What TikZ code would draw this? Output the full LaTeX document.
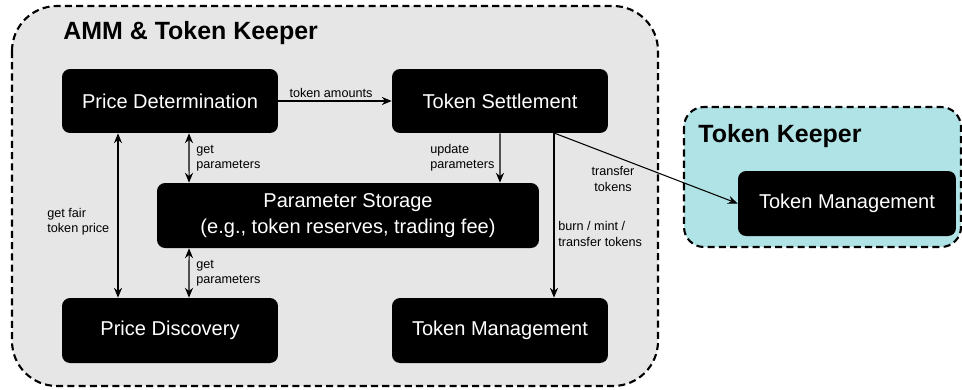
\documentclass[tikz,border=0pt]{standalone}
\usepackage{fontspec}
\setmainfont{Liberation Sans}
\usepackage{xcolor}
\usetikzlibrary{arrows.meta}

\definecolor{groupgray}{HTML}{E6E6E6}
\definecolor{keepercyan}{HTML}{B0E3E6}

\begin{document}
\begin{tikzpicture}[x=0.02cm, y=-0.02cm,
    blockbox/.style={rectangle, rounded corners=0.16cm, fill=black, text=white, align=center,
      font=\fontsize{11.4}{14.7}\selectfont, minimum width=4.32cm, minimum height=1.28cm},
    groupbox/.style={draw=black, line width=1.2pt, dash pattern=on 4pt off 2.4pt},
    grouptitle/.style={font=\fontsize{14.2}{17}\selectfont\bfseries, anchor=base west, inner sep=0pt},
    flowlabel/.style={font=\fontsize{7.2}{8.6}\selectfont, inner sep=0pt, align=left},
    flow/.style={line width=0.6pt, -{Stealth[length=5.6pt,width=4.6pt]}},
    flowboth/.style={line width=0.6pt, {Stealth[length=5.6pt,width=4.6pt]}-{Stealth[length=5.6pt,width=4.6pt]}}]

          % Variables
          \def \leftx  {170}
          \def \rightx {500}
          \def \topy   {101}
          \def \boty   {330.5}

          \useasboundingbox (0,0) rectangle (962,389);

          % Groups
          \draw[groupbox, fill=groupgray, rounded corners=0.9cm] (12,6) rectangle (658,386);
          \draw[groupbox, fill=keepercyan, rounded corners=0.4cm] (684,107) rectangle (961,247);
          \node[grouptitle] (ammtitle) at (63,39) {AMM \& Token Keeper};
          \node[grouptitle] (keepertitle) at (698,142) {Token Keeper};

          % Blocks
          \node[blockbox] (pdet)   at (\leftx,\topy)  {Price Determination};
          \node[blockbox] (tset)   at (\rightx,\topy) {Token Settlement};
          \node[blockbox, minimum width=7.64cm, minimum height=1.3cm] (pstore) at (348,215.5)
            {Parameter Storage\\(e.g., token reserves, trading fee)};
          \node[blockbox, minimum height=1.3cm] (pdisc) at (\leftx,\boty)  {Price Discovery};
          \node[blockbox, minimum height=1.3cm] (tman)  at (\rightx,\boty) {Token Management};
          \node[blockbox, minimum width=4.36cm, minimum height=1.3cm] (kman) at (847,203.5) {Token Management};

          % Arrows
          \draw[flow] (pdet) -- (tset);
          \draw[flowboth] ([xshift=-1.04cm]pdet.south) -- ([xshift=-1.04cm]pdisc.north);
          \draw[flowboth] ([xshift=0.38cm]pdet.south) -- ([xshift=-3.18cm]pstore.north);
          \draw[flowboth] ([xshift=-3.18cm]pstore.south) -- ([xshift=0.38cm]pdisc.north);
          \draw[flow] (tset.south) -- ([xshift=3.04cm]pstore.north);
          \draw[flow] ([xshift=1.08cm]tset.south) -- ([xshift=1.08cm]tman.north);
          \draw[flow] ([xshift=1.1cm]tset.south) -- (kman.west);

          % Labels
          \node[flowlabel, anchor=south] (lamount) at (331,97.5) {token amounts};
          \node[flowlabel, anchor=west] (lfair) at (47,222) {get fair\\token price};
          \node[flowlabel, anchor=west] (lgetup) at (196,158) {get\\parameters};
          \node[flowlabel, anchor=west] (lgetdown) at (196,273) {get\\parameters};
          \node[flowlabel, anchor=west] (lupdate) at (430,158) {update\\parameters};
          \node[flowlabel, anchor=west] (lburn) at (558,234) {burn / mint /\\transfer tokens};
          \node[flowlabel, align=center] (ltransfer) at (613,179) {transfer\\tokens};

        \end{tikzpicture}
\end{document}
